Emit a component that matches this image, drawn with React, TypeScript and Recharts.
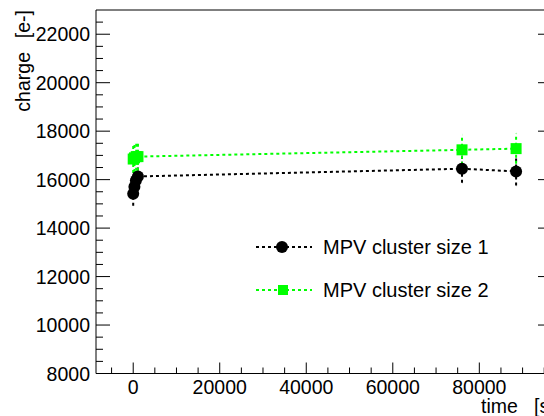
import React from 'react';
import { ScatterChart, Scatter, XAxis, YAxis, ErrorBar, Legend } from 'recharts';

// MPV of the charge distribution vs. time
const time1 = [0, 280, 620, 1090, 76000, 88500];
const mpv1 = [15420, 15710, 15960, 16130, 16450, 16340];
const err1 = [500, 500, 500, 500, 580, 580];

const time2 = [0, 300, 700, 1100, 76000, 88500];
const mpv2 = [16850, 16900, 16950, 16950, 17230, 17280];
const err2 = [580, 580, 580, 580, 620, 620];

const xTicks = [-5000, 0, 5000, 10000, 15000, 20000, 25000, 30000, 35000, 40000, 45000, 50000,
    55000, 60000, 65000, 70000, 75000, 80000, 85000, 90000, 95000];
const yTicks = [8000, 8500, 9000, 9500, 10000, 10500, 11000, 11500, 12000, 12500, 13000, 13500,
    14000, 14500, 15000, 15500, 16000, 16500, 17000, 17500, 18000, 18500, 19000, 19500, 20000,
    20500, 21000, 21500, 22000, 22500];

const series1 = time1.map((t, i) => ({ t, v: mpv1[i], e: err1[i] }));
const series2 = time2.map((t, i) => ({ t, v: mpv2[i], e: err2[i] }));

const FONT = 'Liberation Sans, Arial, sans-serif';

const BottomTick = (props: any) => {
    const { x, y, payload } = props;
    const major = payload.value % 20000 === 0;
    return (
        <g>
            <line x1={x} y1={y} x2={x} y2={y - (major ? 11 : 6)} stroke="#000" />
            {major && (
                <text x={x} y={y + 20} textAnchor="middle" fontSize={19.5} fontFamily={FONT} fill="#000">
                    {payload.value}
                </text>
            )}
        </g>
    );
};

const TopTick = (props: any) => {
    const { x, y, payload } = props;
    const major = payload.value % 20000 === 0;
    return <line x1={x} y1={y} x2={x} y2={y + (major ? 10 : 5)} stroke="#000" />;
};

const LeftTick = (props: any) => {
    const { x, y, payload } = props;
    const major = payload.value % 2000 === 0;
    return (
        <g>
            <line x1={x} y1={y} x2={x + (major ? 14 : 7)} y2={y} stroke="#000" />
            {major && (
                <text x={x - 6} y={y + 7} textAnchor="end" fontSize={19.5} fontFamily={FONT} fill="#000">
                    {payload.value}
                </text>
            )}
        </g>
    );
};

const RightTick = (props: any) => {
    const { x, y, payload } = props;
    const major = payload.value % 2000 === 0;
    return <line x1={x} y1={y} x2={x - (major ? 14 : 7)} y2={y} stroke="#000" />;
};

const renderLegend = () => (
    <svg width={280} height={80} style={{ display: 'block' }}>
        <line x1={6} y1={17} x2={62} y2={17} stroke="#000" strokeWidth={2} strokeDasharray="3 3" />
        <circle cx={32} cy={17} r={6} fill="#000" />
        <text x={73} y={24} fontSize={20} fontFamily={FONT} fill="#000">MPV cluster size 1</text>
        <line x1={6} y1={60} x2={62} y2={60} stroke="#00ff00" strokeWidth={2} strokeDasharray="3 3" />
        <rect x={28} y={55} width={10} height={10} fill="#00ff00" />
        <text x={73} y={67} fontSize={20} fontFamily={FONT} fill="#000">MPV cluster size 2</text>
    </svg>
);

export default function App() {
    return (
        <div style={{ position: 'absolute', left: 0, top: 0, width: 544, height: 416, overflow: 'hidden', background: '#fff' }}>
            <ScatterChart width={553} height={416} margin={{ top: 9, right: 0, bottom: 41.5, left: 95 }}>
                <XAxis xAxisId="b" type="number" dataKey="t" orientation="bottom" domain={[-8600, 96800]}
                    allowDataOverflow ticks={xTicks} interval={0} height={1} tickSize={0} tickMargin={0}
                    tickLine={false} stroke="#000" tick={<BottomTick />} />
                <XAxis xAxisId="top" type="number" orientation="top" domain={[-8600, 96800]}
                    allowDataOverflow ticks={xTicks} interval={0} height={1} tickSize={0} tickMargin={0}
                    tickLine={false} stroke="#000" tick={<TopTick />} />
                <YAxis yAxisId="l" type="number" dataKey="v" orientation="left" domain={[8000, 23000]}
                    allowDataOverflow ticks={yTicks} interval={0} width={1} tickSize={0} tickMargin={0}
                    tickLine={false} stroke="#000" tick={<LeftTick />} />
                <YAxis yAxisId="r" type="number" orientation="right" domain={[8000, 23000]}
                    allowDataOverflow ticks={yTicks} interval={0} width={1} tickSize={0} tickMargin={0}
                    tickLine={false} stroke="#000" tick={<RightTick />} />
                <Legend layout="horizontal" verticalAlign="middle" align="center" content={renderLegend}
                    wrapperStyle={{ left: 250, top: 230, width: 280, height: 80 }} />
                <Scatter xAxisId="b" yAxisId="l" name="MPV cluster size 1" data={series1} isAnimationActive={false}
                    line={{ stroke: '#000', strokeWidth: 2, strokeDasharray: '3 3' }} lineType="joint"
                    shape={(p: any) => <circle cx={p.cx} cy={p.cy} r={6} fill="#000" />}>
                    <ErrorBar dataKey="e" direction="y" width={0} stroke="#000" strokeWidth={2} strokeDasharray="3 3" />
                </Scatter>
                <Scatter xAxisId="b" yAxisId="l" name="MPV cluster size 2" data={series2} isAnimationActive={false}
                    line={{ stroke: '#00ff00', strokeWidth: 2, strokeDasharray: '3 3' }} lineType="joint"
                    shape={(p: any) => <rect x={p.cx - 5.5} y={p.cy - 5.5} width={11} height={11} fill="#00ff00" />}>
                    <ErrorBar dataKey="e" direction="y" width={0} stroke="#00ff00" strokeWidth={2} strokeDasharray="3 3" />
                </Scatter>
            </ScatterChart>
            <svg width={544} height={416} style={{ position: 'absolute', left: 0, top: 0, pointerEvents: 'none' }}>
                <text transform="rotate(-90)" x={-10} y={30} textAnchor="end" fontSize={19.5} fontFamily={FONT} fill="#000">[e-]</text>
                <text transform="rotate(-90)" x={-52} y={30} textAnchor="end" fontSize={19.5} fontFamily={FONT} fill="#000">charge</text>
                <text x={481} y={413} fontSize={19.5} fontFamily={FONT} fill="#000">time</text>
                <text x={534} y={413} fontSize={19.5} fontFamily={FONT} fill="#000">[s]</text>
            </svg>
        </div>
    );
}
